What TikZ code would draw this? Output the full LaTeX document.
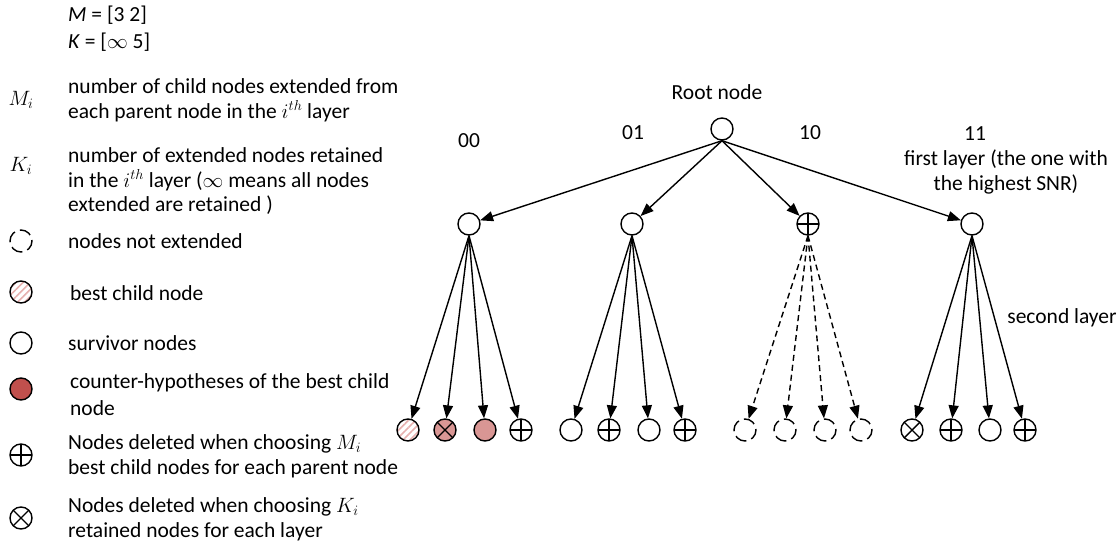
\documentclass[tikz,border=0pt]{standalone}
\usepackage{fontspec}
\setmainfont{Carlito}
\usetikzlibrary{arrows.meta,patterns.meta}
\definecolor{cred}{HTML}{C0504D}
\definecolor{lred}{HTML}{D99694}
\definecolor{hred}{HTML}{E6B0AE}
\begin{document}
\begin{tikzpicture}[x=1pt,y=-1pt,
  every node/.style={font=\fontsize{21.5}{25}\selectfont},
  nd/.style={circle,draw,line width=1.4pt,minimum size=22pt,inner sep=0pt},
  plainnode/.style={nd,fill=white},
  oplusnode/.style={nd,path picture={\draw[line width=1.4pt] (path picture bounding box.north) -- (path picture bounding box.south) (path picture bounding box.west) -- (path picture bounding box.east);}},
  otimesnode/.style={nd,path picture={\draw[line width=1.4pt] (path picture bounding box.north west) -- (path picture bounding box.south east) (path picture bounding box.north east) -- (path picture bounding box.south west);}},
  dashnode/.style={nd,dash pattern=on 12pt off 5.3pt,dash phase=11pt},
  hatchnode/.style={nd,pattern={Lines[angle=45,distance=5pt,line width=1.6pt]},pattern color=hred},
  cnode/.style={nd,fill=cred},
  lnode/.style={nd,fill=lred},
  arr/.style={line width=1.4pt,-{Triangle[length=13pt,width=10pt]}},
  darr/.style={arr,dash pattern=on 6pt off 4pt},
  txt/.style={anchor=west,inner sep=0pt}
]
\useasboundingbox (0,0) rectangle (1120,546);
% legend
\node[txt] (lm) at (68,15) {\textit{M} = [3 2]};
\node[txt] (lk) at (68,42) {\textit{K} = [$\infty$ 5]};
\node (smi) at (21,100) {$M_i$};
\node[txt] (tmi1) at (68,86) {number of child nodes extended from};
\node[txt] (tmi2) at (68,111) {each parent node in the $i^{th}$ layer};
\node (ski) at (21,166) {$K_i$};
\node[txt] (tki1) at (68,155) {number of extended nodes retained};
\node[txt] (tki2) at (68,180) {in the $i^{th}$ layer ($\infty$ means all nodes};
\node[txt] (tki3) at (68,205) {extended are retained )};
\node[dashnode] (ld) at (21,241) {};
\node[txt] (td) at (68,241) {nodes not extended};
\node[hatchnode] (lh) at (21,292) {};
\node[txt] (th) at (70,293) {best child node};
\node[plainnode] (ls) at (21,343) {};
\node[txt] (ts) at (68,343) {survivor nodes};
\node[cnode] (lc) at (21,389) {};
\node[txt] (tc1) at (70,383) {counter-hypotheses of the best child};
\node[txt] (tc2) at (70,408) {node};
\node[oplusnode] (lp) at (21,455) {};
\node[txt] (tp1) at (68,444) {Nodes deleted when choosing $M_i$};
\node[txt] (tp2) at (68,469) {best child nodes for each parent node};
\node[otimesnode] (lx) at (21,518) {};
\node[txt] (tx1) at (68,507) {Nodes deleted when choosing $K_i$};
\node[txt] (tx2) at (68,532) {retained nodes for each layer};
% tree
\node[plainnode] (root) at (722,129) {};
\node (troot) at (717,92) {Root node};
\node (l00) at (469,141) {00};
\node (l01) at (633,133) {01};
\node (l10) at (810,133) {10};
\node (l11) at (975,134) {11};
\node[align=center] (tfirst) at (1006,172) {first layer (the one with\\the highest SNR)};
\node (tsecond) at (1062,318) {second layer};
\node[plainnode] (a) at (469,224) {};
\node[plainnode] (b) at (632,224) {};
\node[oplusnode] (c) at (808,224) {};
\node[plainnode] (d) at (972,224) {};
\foreach \n in {a,b,c,d} \draw[arr] (root.south) -- (\n);
% second layer
\node[hatchnode] (a1) at (408,430) {};
\node[lnode,otimesnode] (a2) at (445,430) {};
\node[lnode] (a3) at (485,430) {};
\node[oplusnode] (a4) at (521,430) {};
\node[plainnode] (b1) at (571,430) {};
\node[oplusnode] (b2) at (609,430) {};
\node[plainnode] (b3) at (649,430) {};
\node[oplusnode] (b4) at (685,430) {};
\node[dashnode] (c1) at (745,430) {};
\node[dashnode] (c2) at (785,430) {};
\node[dashnode] (c3) at (825,430) {};
\node[dashnode] (c4) at (861,430) {};
\node[otimesnode] (d1) at (912,430) {};
\node[oplusnode] (d2) at (951,430) {};
\node[plainnode] (d3) at (990,430) {};
\node[oplusnode] (d4) at (1025,430) {};
\foreach \p in {a,b,d}{
  \foreach \k in {1,2,3,4} \draw[arr] (\p.south) -- (\p\k);
}
\foreach \k in {1,2,3,4} \draw[darr] (c.south) -- (c\k);
\end{tikzpicture}
\end{document}
